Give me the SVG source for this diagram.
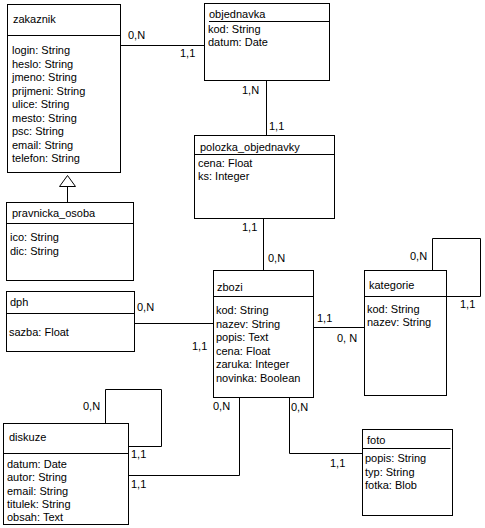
<svg xmlns="http://www.w3.org/2000/svg" width="485" height="528" viewBox="0 0 485 528">
<style>
text{font-family:"Liberation Sans",Arial,sans-serif;font-size:11px;fill:#000}
.box{fill:#fff;stroke:#000;stroke-width:1}
.ln{fill:none;stroke:#000;stroke-width:1}
</style>
<rect width="485" height="528" fill="#fff"/>
<g id="connectors">
<path class="ln" d="M120.5 45.5H204.5"/>
<path class="ln" d="M266.5 80.5V135.5"/>
<path class="ln" d="M263.5 218.5V270.5"/>
<path class="ln" d="M134.5 323.5H213.5"/>
<path class="ln" d="M313.5 327.5H364.5"/>
<path class="ln" d="M432.5 270.5V238.5H480.5V296.5H446.5"/>
<path class="ln" d="M105.5 423.5V389.5H161.5V446.5H128.5"/>
<path class="ln" d="M128.5 475.5H239.5V397.5"/>
<path class="ln" d="M289.5 397.5V453.5H362.5"/>
<path class="ln" d="M67.5 186V202.5"/>
<polygon class="box" points="67.5,175.5 59.5,186.5 75.5,186.5"/>
<text x="128" y="39">0,N</text><text x="180" y="57">1,1</text>
<text x="242" y="94">1,N</text><text x="269" y="130">1,1</text>
<text x="242" y="231">1,1</text><text x="268" y="262">0,N</text>
<text x="137" y="311">0,N</text><text x="192" y="350">1,1</text>
<text x="317" y="322">1,1</text><text x="337" y="342">0, N</text>
<text x="410" y="260">0,N</text><text x="460" y="308">1,1</text>
<text x="83" y="410">0,N</text><text x="131" y="458">1,1</text>
<text x="213" y="410">0,N</text><text x="131" y="488">1,1</text>
<text x="291" y="411">0,N</text><text x="330" y="467">1,1</text>
</g>
<g id="zakaznik">
<rect class="box" x="7.5" y="4.5" width="113" height="168"/>
<path class="ln" d="M7.5 35.5H120.5"/>
<text x="13" y="23">zakaznik</text>
<text x="12" y="54">login: String</text>
<text x="12" y="67.5">heslo: String</text>
<text x="12" y="81">jmeno: String</text>
<text x="12" y="94.5">prijmeni: String</text>
<text x="12" y="108">ulice: String</text>
<text x="12" y="121.5">mesto: String</text>
<text x="12" y="135">psc: String</text>
<text x="12" y="148.5">email: String</text>
<text x="12" y="162">telefon: String</text>
</g>
<g id="objednavka">
<rect class="box" x="204.5" y="3.5" width="125" height="77"/>
<path class="ln" d="M209 21.5H329"/>
<text x="209" y="18">objednavka</text>
<text x="208" y="33">kod: String</text>
<text x="208" y="46">datum: Date</text>
</g>
<g id="polozka_objednavky">
<rect class="box" x="194.5" y="135.5" width="140" height="83"/>
<path class="ln" d="M194.5 154.5H334.5"/>
<text x="200" y="151">polozka_objednavky</text>
<text x="198" y="167">cena: Float</text>
<text x="198" y="180">ks: Integer</text>
</g>
<g id="pravnicka_osoba">
<rect class="box" x="6.5" y="202.5" width="127" height="78"/>
<path class="ln" d="M6.5 223.5H133.5"/>
<text x="12" y="217">pravnicka_osoba</text>
<text x="10" y="241">ico: String</text>
<text x="10" y="255">dic: String</text>
</g>
<g id="dph">
<rect class="box" x="6.5" y="291.5" width="128" height="60"/>
<path class="ln" d="M6.5 313.5H134.5"/>
<text x="10" y="306">dph</text>
<text x="9" y="336">sazba: Float</text>
</g>
<g id="zbozi">
<rect class="box" x="213.5" y="270.5" width="100" height="127"/>
<path class="ln" d="M213.5 296.5H313.5"/>
<text x="217" y="291">zbozi</text>
<text x="216" y="314">kod: String</text>
<text x="216" y="327.5">nazev: String</text>
<text x="216" y="341">popis: Text</text>
<text x="216" y="354.5">cena: Float</text>
<text x="216" y="368">zaruka: Integer</text>
<text x="216" y="381.5">novinka: Boolean</text>
</g>
<g id="kategorie">
<rect class="box" x="364.5" y="270.5" width="82" height="125"/>
<path class="ln" d="M364.5 296.5H446.5"/>
<text x="369" y="289">kategorie</text>
<text x="367" y="313">kod: String</text>
<text x="367" y="326">nazev: String</text>
</g>
<g id="diskuze">
<rect class="box" x="3.5" y="423.5" width="125" height="101"/>
<path class="ln" d="M3.5 453.5H128.5"/>
<text x="9" y="441">diskuze</text>
<text x="7" y="468">datum: Date</text>
<text x="7" y="481.3">autor: String</text>
<text x="7" y="494.6">email: String</text>
<text x="7" y="507.9">titulek: String</text>
<text x="7" y="521.2">obsah: Text</text>
</g>
<g id="foto">
<rect class="box" x="362.5" y="429.5" width="90" height="86"/>
<path class="ln" d="M362.5 448.5H450.5"/>
<text x="367" y="444">foto</text>
<text x="365" y="462">popis: String</text>
<text x="365" y="475.5">typ: String</text>
<text x="365" y="489">fotka: Blob</text>
</g>
</svg>
